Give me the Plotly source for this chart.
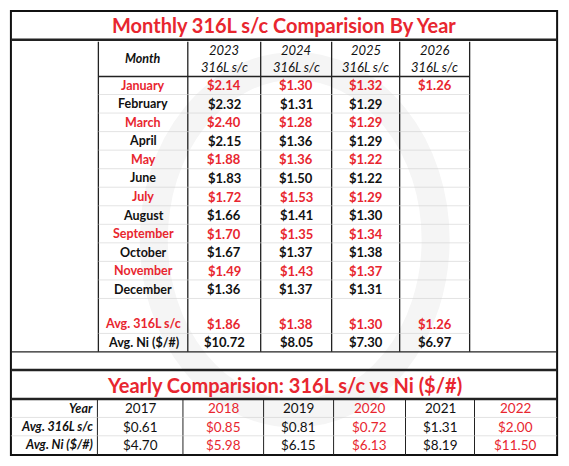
import plotly.graph_objects as go

months = ["January","February","March","April","May","June","July","August",
          "September","October","November","December"]
years_top = ["2023","2024","2025","2026"]
v2023 = ["$2.14","$2.32","$2.40","$2.15","$1.88","$1.83","$1.72","$1.66","$1.70","$1.67","$1.49","$1.36"]
v2024 = ["$1.30","$1.31","$1.28","$1.36","$1.36","$1.50","$1.53","$1.41","$1.35","$1.37","$1.43","$1.37"]
v2025 = ["$1.32","$1.29","$1.29","$1.29","$1.22","$1.22","$1.29","$1.30","$1.34","$1.38","$1.37","$1.31"]
v2026 = ["$1.26","","","","","","","","","","",""]
avg316 = ["$1.86","$1.38","$1.30","$1.26"]
avgni = ["$10.72","$8.05","$7.30","$6.97"]
years_b = ["2017","2018","2019","2020","2021","2022"]
y316 = ["$0.61","$0.85","$0.81","$0.72","$1.31","$2.00"]
yni = ["$4.70","$5.98","$6.15","$6.13","$8.19","$11.50"]

RED = "#e8262f"
BLK = "#111111"
FONT = "Lato"
W, H = 569, 466

fig = go.Figure()
shapes, ann = [], []

def line(x0, y0, x1, y1, w=1.0, c="#222"):
    shapes.append(dict(type="line", x0=x0, y0=y0, x1=x1, y1=y1, line=dict(color=c, width=w)))

def txt(x, y, s, color=BLK, size=13, bold=False, italic=False, xanchor="center"):
    if bold: s = "<b>" + s + "</b>"
    if italic: s = "<i>" + s + "</i>"
    ann.append(dict(x=x, y=y, text=s, showarrow=False, xanchor=xanchor, yanchor="middle",
                    font=dict(family=FONT, size=size, color=color)))

shapes.append(dict(type="circle", x0=150, y0=60, x1=440, y1=420, layer="below",
                   line=dict(color="#f5f5f5", width=28)))

shapes.append(dict(type="rect", x0=3, y0=3, x1=565, y1=463, line=dict(color="#111", width=2)))
txt(284, 18, "Monthly 316L s/c Comparision By Year", RED, 20, bold=True)
line(3, 33, 565, 33, 2.5)

cx = [93, 185, 260, 333, 403, 475]
row_y = [80 + i * 19.2 for i in range(12)]
tbl_bot = 356
for x in cx:
    line(x, 35, x, tbl_bot, 1.3)
line(cx[0], 71, cx[-1], 71, 1.5)
for i in range(12):
    yb = 89.6 + i * 19.2
    line(cx[0], yb, cx[-1], yb, 0.6, "#d0d0d0")
line(cx[0], 337, cx[-1], 337, 0.6, "#d0d0d0")

centers = [(cx[i] + cx[i + 1]) / 2 for i in range(5)]
txt(centers[0], 52, "Month", BLK, 12.5, bold=True, italic=True)
for j, yr in enumerate(years_top):
    txt(centers[j + 1], 44, yr, BLK, 13, italic=True)
    txt(centers[j + 1], 61, "316L s/c", BLK, 13, italic=True)

cols = [v2023, v2024, v2025, v2026]
for i, m in enumerate(months):
    c = RED if i % 2 == 0 else BLK
    txt(centers[0], row_y[i], m, c, 12.5, bold=True)
    for j, col in enumerate(cols):
        if col[i]:
            txt(centers[j + 1], row_y[i], col[i], c, 13, bold=True)
txt(centers[0], 327, "Avg. 316L s/c", RED, 12.5, bold=True)
txt(centers[0], 346, "Avg. Ni ($/#)", BLK, 12.5, bold=True)
for j in range(4):
    txt(centers[j + 1], 327, avg316[j], RED, 13, bold=True)
    txt(centers[j + 1], 346, avgni[j], BLK, 13, bold=True)

line(3, tbl_bot, 565, tbl_bot, 1.3)
line(3, 375, 565, 375, 2.5)
txt(284, 390, "Yearly Comparision: 316L s/c vs Ni ($/#)", RED, 20, bold=True)
line(3, 405, 565, 405, 2.5)

bx = [3, 92, 180, 263, 335, 409, 480, 565]
for x in bx[1:-1]:
    line(x, 405, x, 463, 1.0)
line(3, 424, 565, 424, 0.6, "#d0d0d0")
line(3, 443, 565, 443, 0.6, "#d0d0d0")
ry = [414.5, 433.5, 452.5]
txt(89, ry[0], "Year", BLK, 12.5, bold=True, italic=True, xanchor="right")
txt(89, ry[1], "Avg. 316L s/c", BLK, 12.5, bold=True, italic=True, xanchor="right")
txt(89, ry[2], "Avg. Ni ($/#)", BLK, 12.5, bold=True, italic=True, xanchor="right")
for j, yr in enumerate(years_b):
    c = RED if j % 2 == 1 else BLK
    x = (bx[j + 1] + bx[j + 2]) / 2
    txt(x, ry[0], yr, c, 13.5)
    txt(x, ry[1], y316[j], c, 13.5)
    txt(x, ry[2], yni[j], c, 13.5)

fig.update_layout(
    width=553, height=450, margin=dict(l=0, r=0, t=0, b=0),
    paper_bgcolor="white", plot_bgcolor="white",
    xaxis=dict(range=[0, W], visible=False, fixedrange=True),
    yaxis=dict(range=[H, 0], visible=False, fixedrange=True),
    shapes=shapes, annotations=ann, showlegend=False,
)
fig.write_html("out.html")
